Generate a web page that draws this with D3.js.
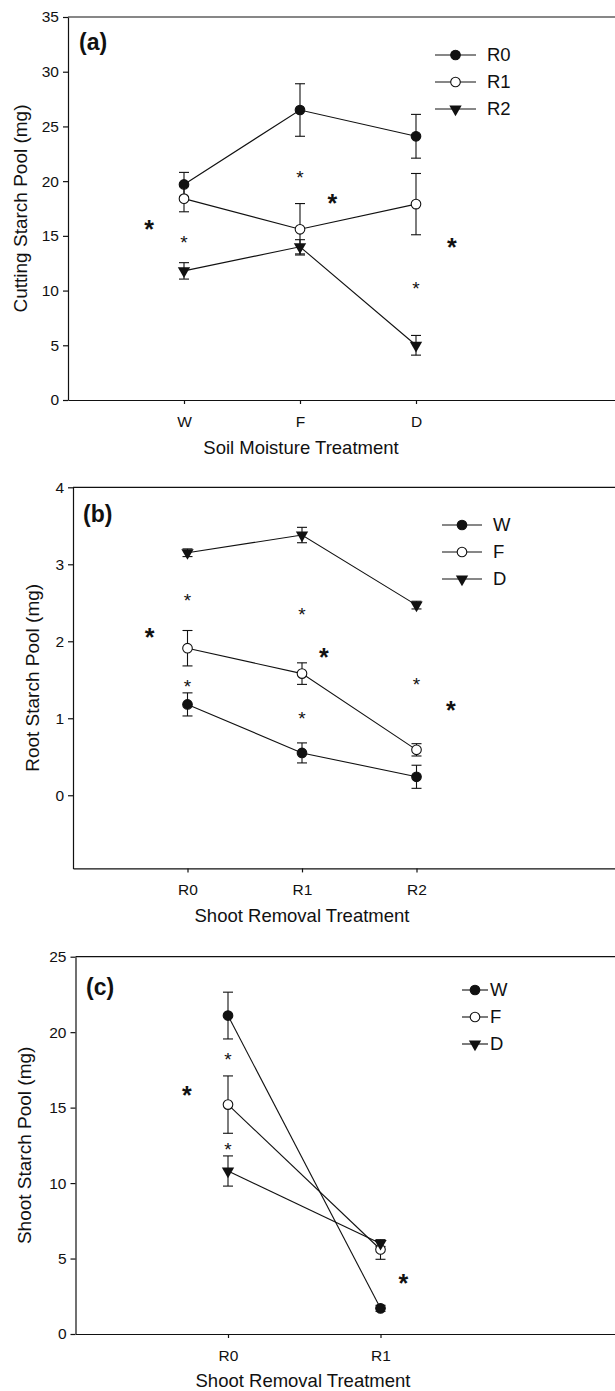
<!DOCTYPE html>
<html>
<head>
<meta charset="utf-8">
<title>Starch pools</title>
<script src="https://cdn.jsdelivr.net/npm/d3@7"></script>
<style>
  body { margin: 0; background: #fff; }
  svg text { font-family: "Liberation Sans", Arial, sans-serif; fill: #111; }
</style>
</head>
<body>
<div id="chart"></div>
<script>
// (a) cutting starch pool, x = soil moisture, series = shoot removal
var moisture = ["W", "F", "D"];
var aR0 = [19.7, 26.5, 24.1],  aR0Err = [1.1, 2.4, 2.0];
var aR1 = [18.4, 15.6, 17.9],  aR1Err = [1.2, 2.35, 2.8];
var aR2 = [11.8, 14.0, 5.0],   aR2Err = [0.75, 0.65, 0.9];
var aTicks = [0, 5, 10, 15, 20, 25, 30, 35];
var aStars = [[1, 14.8], [2, 20.75], [3, 10.6]];
var aBigStars = [[0.7, 16.1], [2.28, 18.5], [3.31, 14.5]];

// (b) root starch pool, x = shoot removal, series = soil moisture
var removal = ["R0", "R1", "R2"];
var bW = [1.18, 0.55, 0.24],  bWErr = [0.15, 0.13, 0.15];
var bF = [1.91, 1.58, 0.59],  bFErr = [0.23, 0.14, 0.08];
var bD = [3.15, 3.38, 2.47],  bDErr = [0.05, 0.10, 0.05];
var bTicks = [0, 1, 2, 3, 4];
var bStars = [[1, 2.58], [1, 1.47], [2, 2.40], [2, 1.05], [3, 1.49]];
var bBigStars = [[0.67, 2.12], [2.19, 1.87], [3.30, 1.17]];

// (c) shoot starch pool
var removalC = ["R0", "R1"];
var cW = [21.1, 1.7],  cWErr = [1.55, 0.2];
var cF = [15.2, 5.6],  cFErr = [1.9, 0.65];
var cD = [10.8, 6.0],  cDErr = [1.0, 0.2];
var cTicks = [0, 5, 10, 15, 20, 25];
var cStars = [[1, 18.5], [1, 12.5]];
var cBigStars = [[0.73, 16.2], [2.15, 3.7]];

var svg = d3.select("#chart").append("svg")
    .attr("width", 615)
    .attr("height", 1391);

function marker(g, shape, cx, cy) {
  if (shape == "down") {
    g.append("path")
      .attr("d", d3.symbol().type(d3.symbolTriangle).size(66)())
      .attr("transform", "translate(" + cx + "," + cy + ") rotate(180)")
      .attr("fill", "#111");
  } else {
    g.append("circle")
      .attr("cx", cx).attr("cy", cy).attr("r", 4.8)
      .attr("fill", shape == "filled" ? "#111" : "#fff")
      .attr("stroke", "#111").attr("stroke-width", 1.1);
  }
}

function panel(p) {
  var g = svg.append("g");
  var x = d3.scaleLinear().domain([0, p.xMax]).range([p.left, p.left + p.unit * p.xMax]);
  var y = d3.scaleLinear().domain(p.yDomain).range([p.bottom, p.top]);

  // top border of the frame
  g.append("line")
    .attr("x1", x(0)).attr("x2", x(p.xMax))
    .attr("y1", y(p.yDomain[1])).attr("y2", y(p.yDomain[1]))
    .attr("stroke", "#111").attr("stroke-width", 1.2);

  var ya = g.append("g")
    .attr("transform", "translate(" + x(0) + ",0)")
    .call(d3.axisLeft(y).tickValues(p.yTicks).tickFormat(d3.format("d"))
      .tickSize(5).tickPadding(4).tickSizeOuter(0));
  var xa = g.append("g")
    .attr("transform", "translate(0," + y(p.yDomain[0]) + ")")
    .call(d3.axisBottom(x).tickValues(d3.range(1, p.cats.length + 1))
      .tickFormat(function(i) { return p.cats[i - 1]; })
      .tickSize(4).tickPadding(12).tickSizeOuter(0));
  [ya, xa].forEach(function(a) {
    a.attr("font-family", null);
    a.selectAll("path, line").attr("stroke", "#111").attr("stroke-width", 1.2);
    a.selectAll("text").attr("font-size", 15.5).attr("fill", "#111");
  });

  g.append("text")
    .attr("x", p.titleX).attr("y", p.xTitleY).attr("dy", "0.35em")
    .attr("text-anchor", "middle").attr("font-size", 18.5)
    .text(p.xTitle);
  g.append("text")
    .attr("transform", "translate(" + p.yTitleX + "," + (p.top + p.bottom) / 2 + ") rotate(-90)")
    .attr("dy", "0.35em")
    .attr("text-anchor", "middle").attr("font-size", 19)
    .text(p.yTitle);
  g.append("text")
    .attr("x", p.labelX).attr("y", p.labelY)
    .attr("font-size", 23).attr("font-weight", "bold")
    .text(p.label);

  var line = d3.line()
    .x(function(d, i) { return x(i + 1); })
    .y(function(d) { return y(d); });

  p.series.forEach(function(s) {
    g.append("path").attr("d", line(s.values))
      .attr("fill", "none").attr("stroke", "#111").attr("stroke-width", 1.1);
    s.values.forEach(function(v, i) {
      var cx = x(i + 1), hi = y(v + s.errs[i]), lo = y(v - s.errs[i]);
      g.append("line").attr("x1", cx).attr("x2", cx).attr("y1", hi).attr("y2", lo)
        .attr("stroke", "#111").attr("stroke-width", 1.1);
      [hi, lo].forEach(function(yy) {
        g.append("line").attr("x1", cx - 5).attr("x2", cx + 5).attr("y1", yy).attr("y2", yy)
          .attr("stroke", "#111").attr("stroke-width", 1.1);
      });
    });
  });
  p.series.forEach(function(s) {
    s.values.forEach(function(v, i) { marker(g, s.shape, x(i + 1), y(v)); });
  });

  p.stars.forEach(function(d) {
    g.append("text").attr("x", x(d[0])).attr("y", y(d[1])).attr("dy", "0.57em")
      .attr("text-anchor", "middle").attr("font-size", 19).text("*");
  });
  p.bigStars.forEach(function(d) {
    g.append("text").attr("x", x(d[0])).attr("y", y(d[1])).attr("dy", "0.57em")
      .attr("text-anchor", "middle").attr("font-size", 25).attr("font-weight", "bold").text("*");
  });

  // legend
  p.series.forEach(function(s, i) {
    var ly = p.legY + i * p.legGap;
    g.append("line").attr("x1", p.legX).attr("x2", p.legX + p.legLen).attr("y1", ly).attr("y2", ly)
      .attr("stroke", "#111").attr("stroke-width", 1.1);
    marker(g, s.shape, p.legX + p.legLen / 2, ly);
    g.append("text").attr("x", p.legX + p.legLen + p.legPad).attr("y", ly).attr("dy", "0.35em")
      .attr("font-size", 18.5).text(s.name);
  });
}

panel({
  left: 68, unit: 116, xMax: 5, top: 17, bottom: 400,
  yDomain: [0, 35], yTicks: aTicks, cats: moisture,
  series: [
    {name: "R0", values: aR0, errs: aR0Err, shape: "filled"},
    {name: "R1", values: aR1, errs: aR1Err, shape: "open"},
    {name: "R2", values: aR2, errs: aR2Err, shape: "down"}
  ],
  stars: aStars, bigStars: aBigStars,
  label: "(a)", labelX: 79, labelY: 50,
  xTitle: "Soil Moisture Treatment", titleX: 301, xTitleY: 448,
  yTitle: "Cutting Starch Pool (mg)", yTitleX: 20,
  legX: 435, legLen: 41, legPad: 11, legY: 55, legGap: 27
});

panel({
  left: 73, unit: 114.5, xMax: 5, top: 487.3, bottom: 868.4,
  yDomain: [-0.95, 4], yTicks: bTicks, cats: removal,
  series: [
    {name: "W", values: bW, errs: bWErr, shape: "filled"},
    {name: "F", values: bF, errs: bFErr, shape: "open"},
    {name: "D", values: bD, errs: bDErr, shape: "down"}
  ],
  stars: bStars, bigStars: bBigStars,
  label: "(b)", labelX: 83, labelY: 522,
  xTitle: "Shoot Removal Treatment", titleX: 302, xTitleY: 916,
  yTitle: "Root Starch Pool (mg)", yTitleX: 32,
  legX: 442, legLen: 40, legPad: 11, legY: 525, legGap: 27
});

panel({
  left: 75.5, unit: 152.5, xMax: 4, top: 956.7, bottom: 1334,
  yDomain: [0, 25], yTicks: cTicks, cats: removalC,
  series: [
    {name: "W", values: cW, errs: cWErr, shape: "filled"},
    {name: "F", values: cF, errs: cFErr, shape: "open"},
    {name: "D", values: cD, errs: cDErr, shape: "down"}
  ],
  stars: cStars, bigStars: cBigStars,
  label: "(c)", labelX: 86, labelY: 995,
  xTitle: "Shoot Removal Treatment", titleX: 303, xTitleY: 1381,
  yTitle: "Shoot Starch Pool (mg)", yTitleX: 24,
  legX: 462, legLen: 26, legPad: 2, legY: 990, legGap: 27
});
</script>
</body>
</html>
